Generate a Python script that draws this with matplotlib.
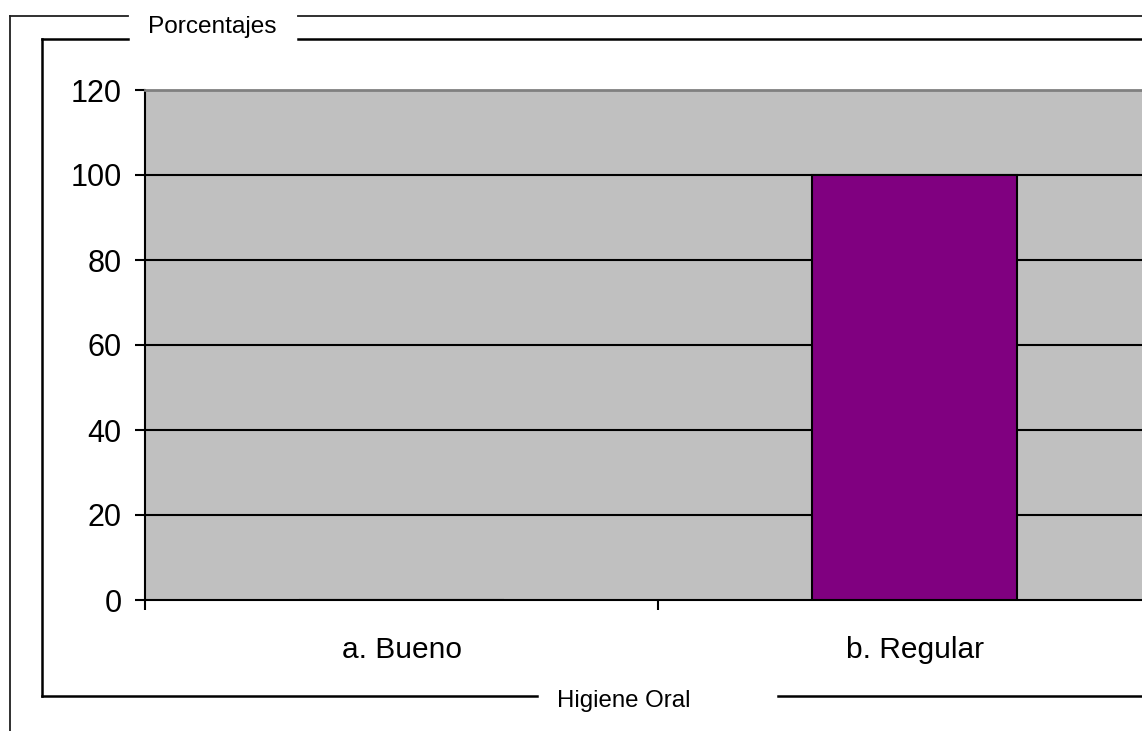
import matplotlib
matplotlib.use("Agg")
import matplotlib.pyplot as plt
from matplotlib.lines import Line2D

# Data
categories = ["a. Bueno", "b. Regular"]
values = [0, 100]
y_ticks = [0, 20, 40, 60, 80, 100, 120]
y_label = "Porcentajes"
x_label = "Higiene Oral"

W, H = 1142, 731
DPI = 100
plt.rcParams["font.family"] = ["Liberation Sans", "DejaVu Sans"]

fig = plt.figure(figsize=(W / DPI, H / DPI), dpi=DPI, facecolor="white")


def fx(x):
    return x / W


def fy(y):
    return 1 - y / H


# Plot area (right edge runs past the figure border)
left, right, top, bottom = 145, 1171, 90, 600
ax = fig.add_axes([fx(left), fy(bottom), fx(right - left), (bottom - top) / H])
ax.set_facecolor("#C0C0C0")

x = list(range(len(categories)))
ax.bar(x, values, width=0.4, color="#800080", edgecolor="black", linewidth=1.5, zorder=3)

ax.set_xlim(-0.5, len(categories) - 0.5)
ax.set_ylim(0, 120)
ax.set_yticks(y_ticks)
ax.set_yticklabels([str(v) for v in y_ticks])
for v in y_ticks[1:-1]:
    ax.axhline(v, color="black", linewidth=1.5, zorder=2)

ax.set_xticks(x)
ax.set_xticklabels(categories)
ax.set_xticks([i - 0.5 for i in range(len(categories) + 1)], minor=True)
ax.tick_params(axis="x", which="major", length=0, pad=26, labelsize=21.5)
ax.tick_params(axis="x", which="minor", length=7, width=1.5, direction="out", color="black")
ax.tick_params(axis="y", length=7, width=1.5, direction="out", pad=10, labelsize=22, color="black")

for s in ("left", "bottom"):
    ax.spines[s].set_color("black")
    ax.spines[s].set_linewidth(1.5)
ax.spines["top"].set_color("#808080")
ax.spines["top"].set_linewidth(2)
ax.spines["right"].set_visible(False)


def seg(x0, y0, x1, y1, color="black", lw=1.5):
    fig.add_artist(Line2D([fx(x0), fx(x1)], [fy(y0), fy(y1)], color=color,
                          linewidth=lw, transform=fig.transFigure))


# Outer frame
seg(9.5, 16, 9.5, 731, color="#202020", lw=1.3)
seg(9.5, 16, 128, 16, color="#202020", lw=1.3)
seg(298, 16, 1142, 16, color="#202020", lw=1.3)

# Inner frame
seg(42, 38.5, 42, 696, lw=1.8)
seg(42, 38.5, 128, 38.5, lw=1.8)
seg(298, 38.5, 1142, 38.5, lw=1.8)
seg(42, 696, 537, 696, lw=1.8)
seg(778, 696, 1142, 696, lw=1.8)

fig.text(fx(212), fy(27), y_label, ha="center", va="center", fontsize=17.6)
fig.text(fx(624), fy(701), x_label, ha="center", va="center", fontsize=17.3)

fig.savefig("out.png", dpi=DPI, facecolor="white")
